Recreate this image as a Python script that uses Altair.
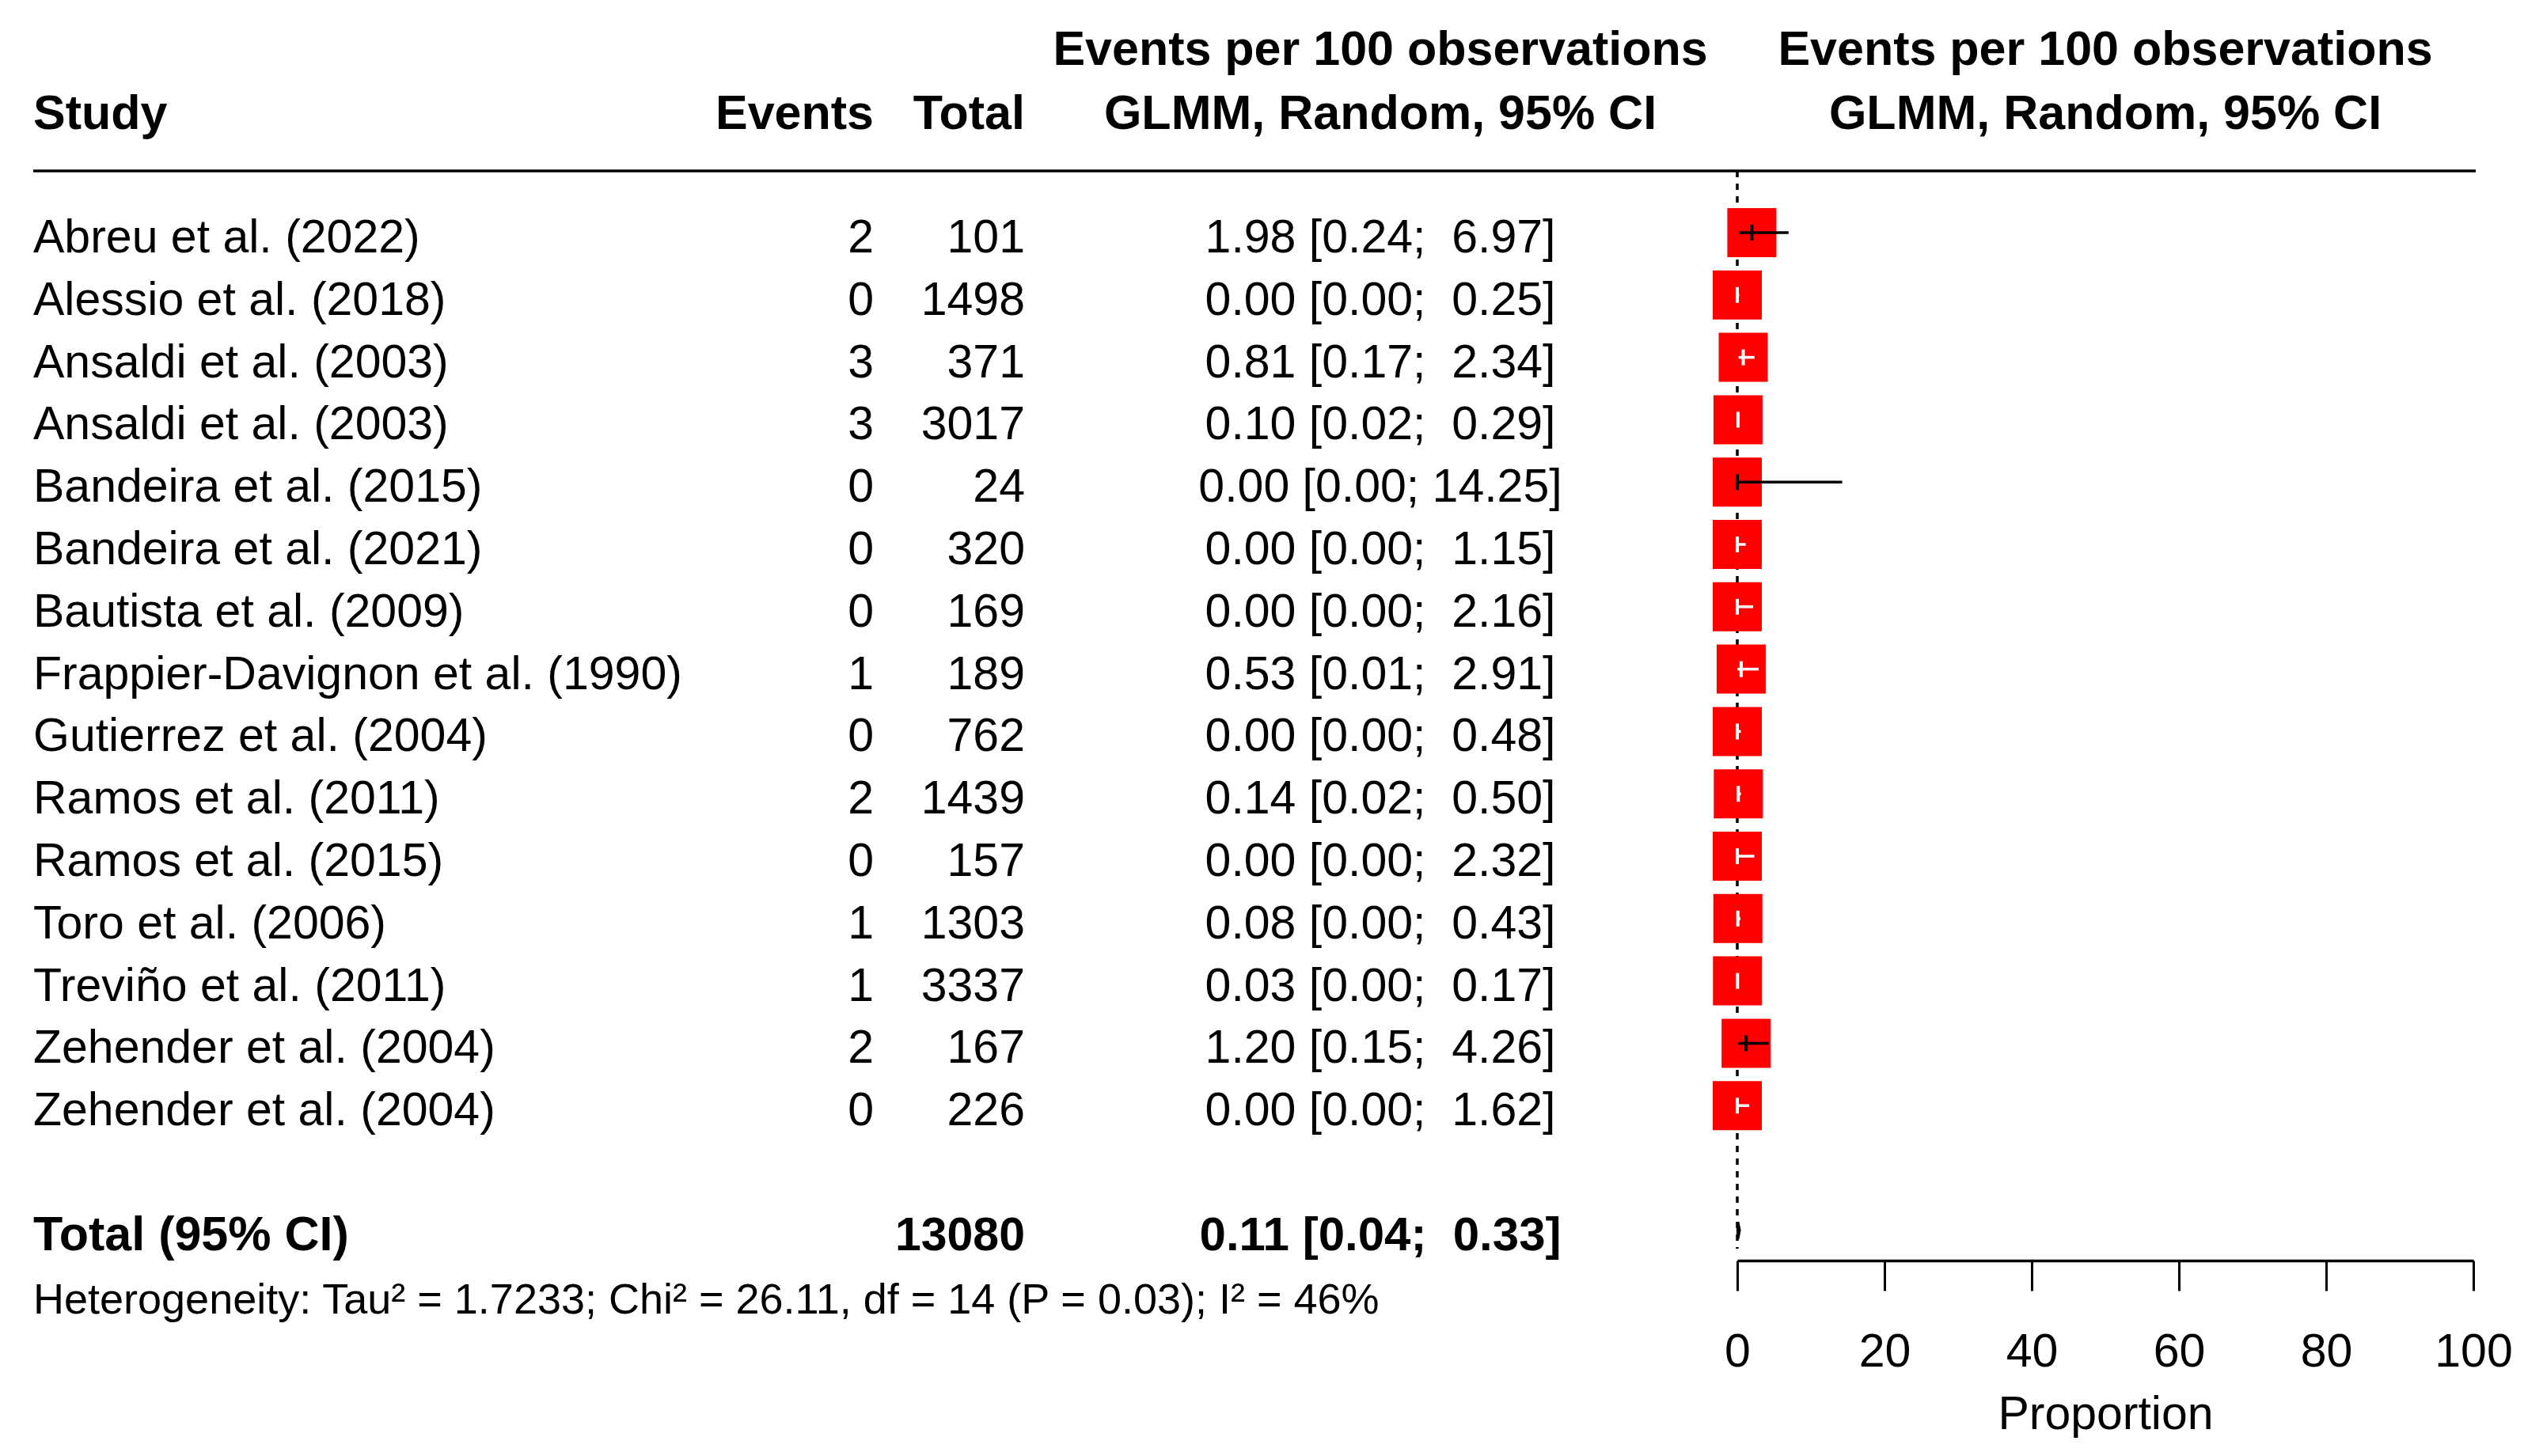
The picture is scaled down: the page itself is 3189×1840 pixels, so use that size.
import altair as alt
import pandas as pd

# ---------------- data ----------------
studies = ["Abreu et al. (2022)", "Alessio et al. (2018)", "Ansaldi et al. (2003)",
           "Ansaldi et al. (2003)", "Bandeira et al. (2015)", "Bandeira et al. (2021)",
           "Bautista et al. (2009)", "Frappier-Davignon et al. (1990)", "Gutierrez et al. (2004)",
           "Ramos et al. (2011)", "Ramos et al. (2015)", "Toro et al. (2006)",
           "Treviño et al. (2011)", "Zehender et al. (2004)", "Zehender et al. (2004)"]
events = [2, 0, 3, 3, 0, 0, 0, 1, 0, 2, 0, 1, 1, 2, 0]
totals = [101, 1498, 371, 3017, 24, 320, 169, 189, 762, 1439, 157, 1303, 3337, 167, 226]
est = [1.98, 0.00, 0.81, 0.10, 0.00, 0.00, 0.00, 0.53, 0.00, 0.14, 0.00, 0.08, 0.03, 1.20, 0.00]
lower = [0.24, 0.00, 0.17, 0.02, 0.00, 0.00, 0.00, 0.01, 0.00, 0.02, 0.00, 0.00, 0.00, 0.15, 0.00]
upper = [6.97, 0.25, 2.34, 0.29, 14.25, 1.15, 2.16, 2.91, 0.48, 0.50, 2.32, 0.43, 0.17, 4.26, 1.62]

pooled_total = 13080
pooled_est, pooled_lower, pooled_upper = 0.11, 0.04, 0.33
tau2, chi2, df_q, p_q, i2 = 1.7233, 26.11, 14, 0.03, 46

header_study = "Study"
header_events = "Events"
header_total = "Total"
header_effect = ["Events per 100 observations", "GLMM, Random, 95% CI"]
total_label = "Total (95% CI)"
axis_title = "Proportion"
axis_ticks = [0, 20, 40, 60, 80, 100]

# ---------------- tables ----------------
NB = "\u00a0"


def ci_text(e, lo, up):
    return f"{e:.2f} [{lo:.2f};{NB}{up:5.2f}]"


rows = list(range(1, len(studies) + 1))
SQUARE_HALF_UNITS = 3.0  # half width of a study square, in axis units
study_df = pd.DataFrame({
    "row": rows,
    "study": studies,
    "events": [str(v) for v in events],
    "total": [str(v) for v in totals],
    "est": est,
    "lower": lower,
    "upper": upper,
    "ci": [ci_text(e, lo, up) for e, lo, up in zip(est, lower, upper)],
})
study_df["lc"] = [
    "black" if (u - e) > SQUARE_HALF_UNITS or (e - l) > SQUARE_HALF_UNITS else "white"
    for e, l, u in zip(est, lower, upper)
]

TOTAL_ROW = len(studies) + 2
HET_ROW = TOTAL_ROW + 1
total_df = pd.DataFrame({
    "row": [TOTAL_ROW],
    "label": [total_label],
    "total": [str(pooled_total)],
    "ci": [ci_text(pooled_est, pooled_lower, pooled_upper)],
})
DH = 0.135  # diamond half height in rows
diamond_df = pd.DataFrame({
    "x": [pooled_lower, pooled_est, pooled_upper],
    "y": [TOTAL_ROW, TOTAL_ROW - DH, TOTAL_ROW],
    "y2": [TOTAL_ROW, TOTAL_ROW + DH, TOTAL_ROW],
})
het_text = (f"Heterogeneity: Tau² = {tau2:.4f}; Chi² = {chi2:.2f}, "
             f"df = {df_q} (P = {p_q:.2f}); I² = {i2}%")
ref_df = pd.DataFrame({"ref": [0]})

# ---------------- scales / layout ----------------
FONT = "Liberation Sans"
FS = 59
FSB = 61
X0, X1 = 2187, 3117
xscale = alt.Scale(domain=[0, 100], range=[X0, X1], nice=False, zero=False)
yscale = alt.Scale(domain=[1, HET_ROW], range=[286, 286 + (HET_ROW - 1) * 78.8], nice=False, zero=False)
xaxis = alt.Axis(values=axis_ticks, title=axis_title, grid=False, format="d",
                 domainColor="black", domainWidth=3.5, tickColor="black", tickWidth=3,
                 tickSize=38, labelFont=FONT, labelFontSize=FS, labelColor="black",
                 labelPadding=48, labelFlush=False, labelOverlap=False,
                 titleFont=FONT, titleFontSize=FS, titleFontWeight="normal",
                 titleColor="black", titleBaseline="alphabetic", titleY=212)


def X(field, **kw):
    return alt.X(field, scale=xscale, axis=xaxis, **kw)


def Y(field):
    return alt.Y(field, scale=yscale, axis=None)


COL_STUDY = 34
COL_EVENTS = 1096
COL_TOTAL = 1287
COL_EFFECT = 1736
COL_PLOT = (X0 + X1) / 2

# header rule
hline = alt.Chart(ref_df).mark_rule(color="black", strokeWidth=3.5).encode(
    x=alt.value(34), x2=alt.value(3120), y=alt.value(208))

# reference dashed line at 0
dashed = alt.Chart(ref_df).mark_rule(color="black", strokeWidth=3.5, strokeDash=[8, 8]).encode(
    x=X("ref:Q"), y=alt.value(208), y2=alt.value(1570))

squares = alt.Chart(study_df).mark_square(size=3844, color="#FF0000", opacity=1, filled=True).encode(
    x=X("est:Q"), y=Y("row:Q"))

ci_lines = alt.Chart(study_df).mark_rule(strokeWidth=3.5, opacity=1).encode(
    x=X("lower:Q"), x2="upper:Q", y=Y("row:Q"), color=alt.Color("lc:N", scale=None))

ticks = alt.Chart(study_df).mark_tick(orient="vertical", size=20, thickness=4, opacity=1).encode(
    x=X("est:Q"), y=Y("row:Q"), color=alt.Color("lc:N", scale=None))

diamond = alt.Chart(diamond_df).mark_area(orient="vertical", color="black", stroke="black",
                                          strokeWidth=3, opacity=1).encode(
    x=X("x:Q"), y=Y("y:Q"), y2="y2:Q")


def txt(data, field, xpos, align, bold=False, dy=25, fs=None):
    if fs is None:
        fs = FSB if bold else FS
    return alt.Chart(data).mark_text(
        align=align, baseline="alphabetic", dy=dy, font=FONT, fontSize=fs,
        fontWeight="bold" if bold else "normal", color="black").encode(
        x=alt.value(xpos), y=Y("row:Q"), text=f"{field}:N")


def header(text, xpos, ypos, align):
    return alt.Chart(pd.DataFrame({"t": [text]})).mark_text(
        align=align, baseline="alphabetic", font=FONT, fontSize=FSB, fontWeight="bold",
        color="black").encode(x=alt.value(xpos), y=alt.value(ypos), text="t:N")


layers = [
    hline, dashed, squares, ci_lines, ticks, diamond,
    txt(study_df, "study", COL_STUDY, "left"),
    txt(study_df, "events", COL_EVENTS, "right"),
    txt(study_df, "total", COL_TOTAL, "right"),
    txt(study_df, "ci", COL_EFFECT, "center"),
    txt(total_df, "label", COL_STUDY, "left", bold=True),
    txt(total_df, "total", COL_TOTAL, "right", bold=True, fs=FS),
    txt(total_df, "ci", COL_EFFECT, "center", bold=True, fs=FS + 1),
    txt(pd.DataFrame({"row": [HET_ROW], "t": [het_text]}), "t", COL_STUDY, "left", dy=26, fs=54),
    header(header_study, COL_STUDY, 155, "left"),
    header(header_events, COL_EVENTS, 155, "right"),
    header(header_total, COL_TOTAL, 155, "right"),
    header(header_effect[0], COL_EFFECT, 74, "center"),
    header(header_effect[1], COL_EFFECT, 155, "center"),
    header(header_effect[0], COL_PLOT, 74, "center"),
    header(header_effect[1], COL_PLOT, 155, "center"),
]

chart = alt.layer(*layers).properties(
    width=3160, height=1585, padding=0, background="white"
).configure_view(strokeWidth=0)

chart.save("out.html", embed_options={"renderer": "svg", "actions": False})
